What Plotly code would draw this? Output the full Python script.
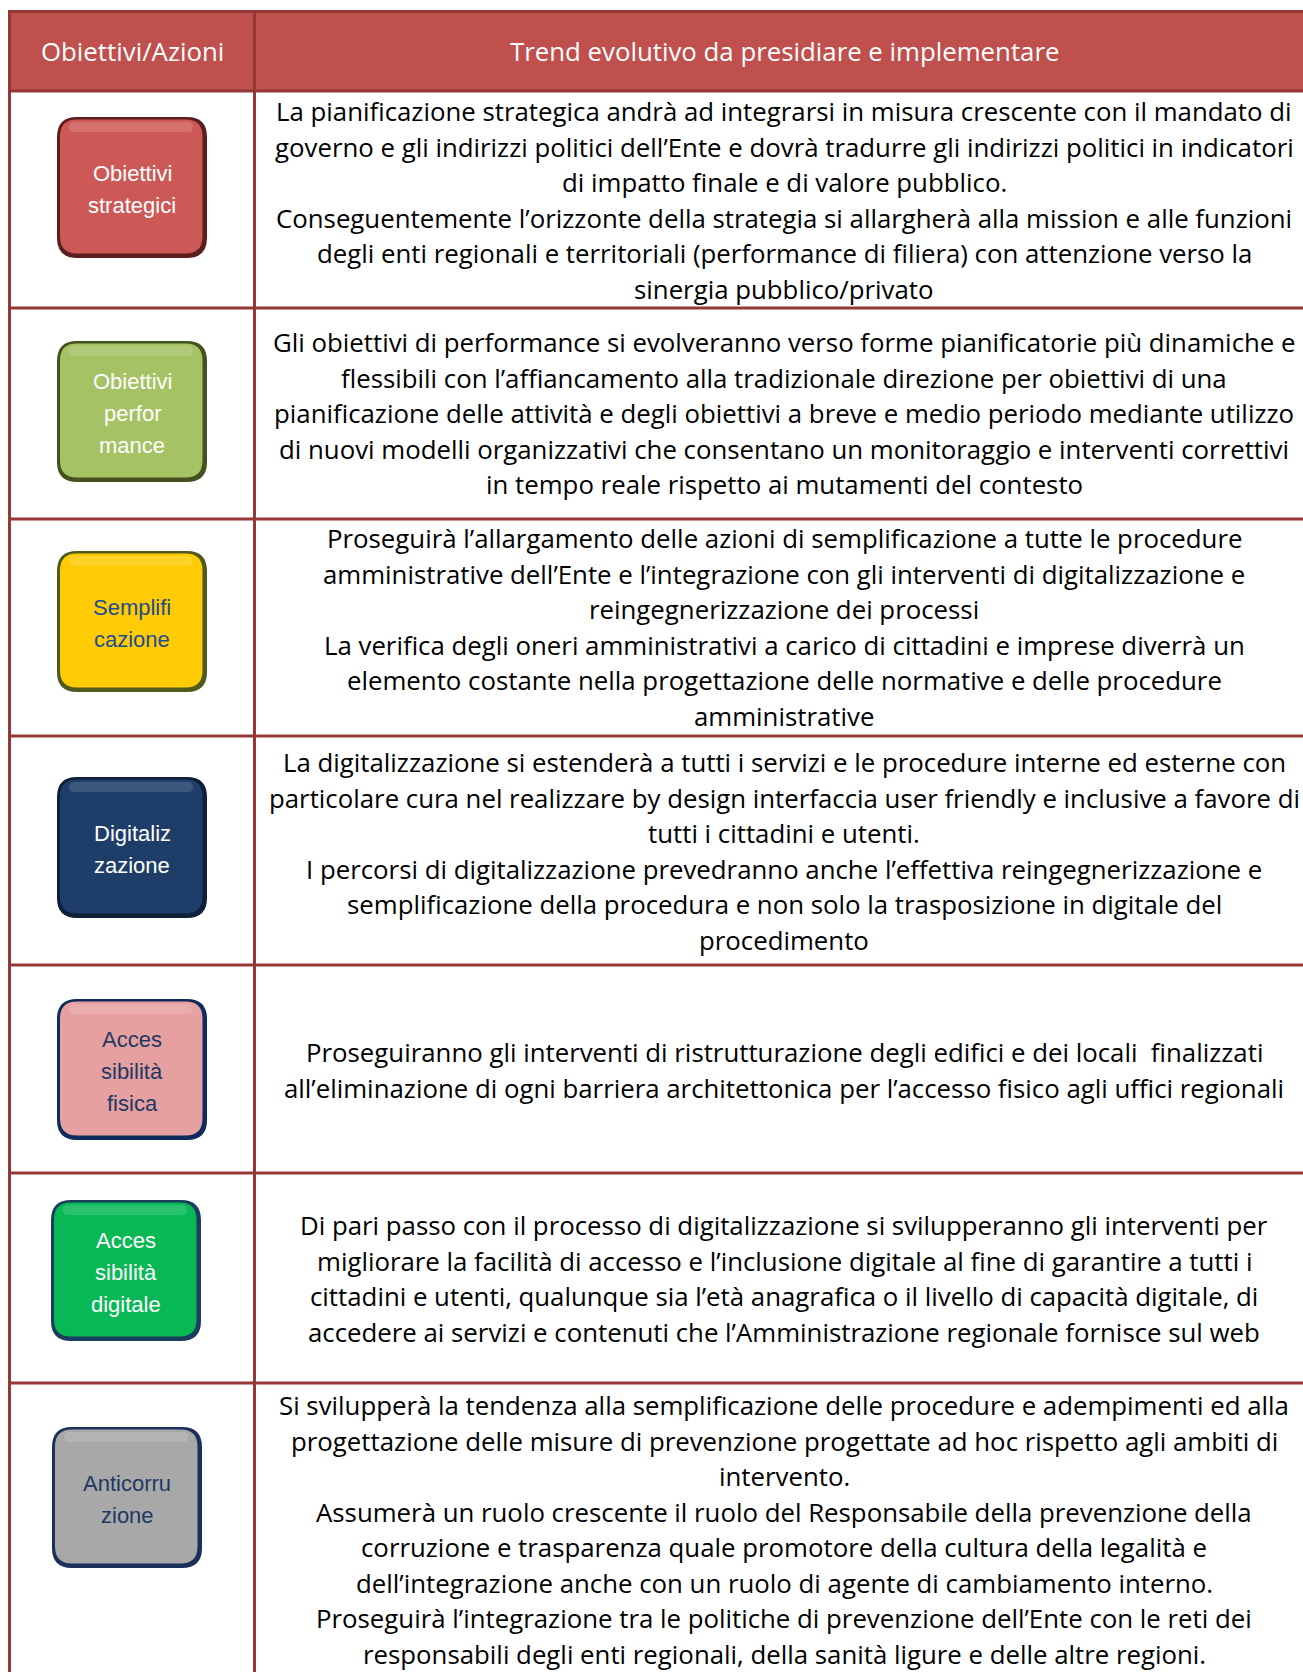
import plotly.graph_objects as go

W, H = 1303, 1672

# ---------------- data ----------------
header_labels = ["Obiettivi/Azioni", "Trend evolutivo da presidiare e implementare"]

button_labels = [
    ["Obiettivi", "strategici"],
    ["Obiettivi", "perfor", "mance"],
    ["Semplifi", "cazione"],
    ["Digitaliz", "zazione"],
    ["Acces", "sibilità", "fisica"],
    ["Acces", "sibilità", "digitale"],
    ["Anticorru", "zione"],
]

descriptions = [
    ["La pianificazione strategica andrà ad integrarsi in misura crescente con il mandato di",
     "governo e gli indirizzi politici dell’Ente e dovrà tradurre gli indirizzi politici in indicatori",
     "di impatto finale e di valore pubblico.",
     "Conseguentemente l’orizzonte della strategia si allargherà alla mission e alle funzioni",
     "degli enti regionali e territoriali (performance di filiera) con attenzione verso la",
     "sinergia pubblico/privato"],
    ["Gli obiettivi di performance si evolveranno verso forme pianificatorie più dinamiche e",
     "flessibili con l’affiancamento alla tradizionale direzione per obiettivi di una",
     "pianificazione delle attività e degli obiettivi a breve e medio periodo mediante utilizzo",
     "di nuovi modelli organizzativi che consentano un monitoraggio e interventi correttivi",
     "in tempo reale rispetto ai mutamenti del contesto"],
    ["Proseguirà l’allargamento delle azioni di semplificazione a tutte le procedure",
     "amministrative dell’Ente e l’integrazione con gli interventi di digitalizzazione e",
     "reingegnerizzazione dei processi",
     "La verifica degli oneri amministrativi a carico di cittadini e imprese diverrà un",
     "elemento costante nella progettazione delle normative e delle procedure",
     "amministrative"],
    ["La digitalizzazione si estenderà a tutti i servizi e le procedure interne ed esterne con",
     "particolare cura nel realizzare by design interfaccia user friendly e inclusive a favore di",
     "tutti i cittadini e utenti.",
     "I percorsi di digitalizzazione prevedranno anche l’effettiva reingegnerizzazione e",
     "semplificazione della procedura e non solo la trasposizione in digitale del",
     "procedimento"],
    ["Proseguiranno gli interventi di ristrutturazione degli edifici e dei locali  finalizzati",
     "all’eliminazione di ogni barriera architettonica per l’accesso fisico agli uffici regionali"],
    ["Di pari passo con il processo di digitalizzazione si svilupperanno gli interventi per",
     "migliorare la facilità di accesso e l’inclusione digitale al fine di garantire a tutti i",
     "cittadini e utenti, qualunque sia l’età anagrafica o il livello di capacità digitale, di",
     "accedere ai servizi e contenuti che l’Amministrazione regionale fornisce sul web"],
    ["Si svilupperà la tendenza alla semplificazione delle procedure e adempimenti ed alla",
     "progettazione delle misure di prevenzione progettate ad hoc rispetto agli ambiti di",
     "intervento.",
     "Assumerà un ruolo crescente il ruolo del Responsabile della prevenzione della",
     "corruzione e trasparenza quale promotore della cultura della legalità e",
     "dell’integrazione anche con un ruolo di agente di cambiamento interno.",
     "Proseguirà l’integrazione tra le politiche di prevenzione dell’Ente con le reti dei",
     "responsabili degli enti regionali, della sanità ligure e delle altre regioni."],
]

# ---------------- styles / layout ----------------
face_colors = ["#CD5957", "#A5C264", "#FFCB05", "#1E3D68", "#E6A0A0", "#08B855", "#A8A8A8"]
edge_colors = ["#5A1E1C", "#44521F", "#4E5A1E", "#0E1F38", "#0F2A5C", "#1A3F5E", "#1A2F5A"]
text_colors = ["#FFFFFF", "#FFFFFF", "#1F4E8C", "#FFFFFF", "#1F3864", "#FFFFFF", "#1F3864"]

BORDER = "#953735"
HEADER_FILL = "#C0504D"
row_lines = [91, 308, 519, 736, 965, 1173, 1383]
LEFT_X, DIV_X, RIGHT_X = 9.5, 254.5, 1312
button_x0 = [57, 57, 57, 57, 57, 51, 52]
button_y0 = [117, 341, 551, 777, 999, 1200, 1427]
BW, BH, RAD = 150, 141, 20
first_line_y = [111, 342, 538, 762, 1052, 1225, 1405]
LINE_H = 35.5
BODY_X = 784
BODY_FONT = "Open Sans"
BODY_SIZE = 25.8

fig = go.Figure()


def rrect(x0, y0, x1, y1, r):
    return (f"M {x0+r},{y0} L {x1-r},{y0} Q {x1},{y0} {x1},{y0+r} "
            f"L {x1},{y1-r} Q {x1},{y1} {x1-r},{y1} L {x0+r},{y1} "
            f"Q {x0},{y1} {x0},{y1-r} L {x0},{y0+r} Q {x0},{y0} {x0+r},{y0} Z")


shapes = []
shapes.append(dict(type="rect", x0=LEFT_X, x1=RIGHT_X, y0=11, y1=91,
                   fillcolor=HEADER_FILL, line_width=0, layer="below"))
shapes.append(dict(type="line", x0=LEFT_X - 1.5, x1=RIGHT_X, y0=11.5, y1=11.5,
                   line=dict(color=BORDER, width=3)))
for y in row_lines:
    shapes.append(dict(type="line", x0=LEFT_X - 1.5, x1=RIGHT_X, y0=y, y1=y,
                       line=dict(color=BORDER, width=3)))
for x in (LEFT_X, DIV_X):
    shapes.append(dict(type="line", x0=x, x1=x, y0=10, y1=H + 5,
                       line=dict(color=BORDER, width=3)))

annotations = []
annotations.append(dict(x=(LEFT_X + DIV_X) / 2, y=51, text=header_labels[0], showarrow=False,
                        xanchor="center", yanchor="middle",
                        font=dict(family=BODY_FONT, size=BODY_SIZE, color="white")))
annotations.append(dict(x=BODY_X, y=51, text=header_labels[1], showarrow=False,
                        xanchor="center", yanchor="middle",
                        font=dict(family=BODY_FONT, size=BODY_SIZE, color="white")))

for i, labels in enumerate(button_labels):
    x0, y0 = button_x0[i], button_y0[i]
    x1, y1 = x0 + BW, y0 + BH
    shapes.append(dict(type="path", path=rrect(x0, y0, x1, y1, RAD),
                       fillcolor=edge_colors[i], line_width=0))
    shapes.append(dict(type="path", path=rrect(x0 + 3, y0 + 2.5, x1 - 4.5, y1 - 4.5, RAD - 3),
                       fillcolor=face_colors[i], line_width=0))
    shapes.append(dict(type="path", path=rrect(x0 + 12, y0 + 5, x1 - 14, y0 + 15, 5),
                       fillcolor="rgba(255,255,255,0.14)", line_width=0))
    cy = y0 + BH / 2 + 2
    n = len(labels)
    for k, lab in enumerate(labels):
        annotations.append(dict(x=x0 + BW / 2, y=cy + (k - (n - 1) / 2) * 32, text=lab,
                                showarrow=False, xanchor="center", yanchor="middle",
                                font=dict(family="Liberation Sans", size=22,
                                          color=text_colors[i])))

for i, lines in enumerate(descriptions):
    for k, line in enumerate(lines):
        annotations.append(dict(x=BODY_X, y=first_line_y[i] + k * LINE_H, text=line,
                                showarrow=False, xanchor="center", yanchor="middle",
                                font=dict(family=BODY_FONT, size=BODY_SIZE, color="black")))

fig.update_layout(
    width=W, height=H,
    margin=dict(l=0, r=0, t=0, b=0),
    paper_bgcolor="white", plot_bgcolor="white",
    xaxis=dict(range=[0, W], visible=False, fixedrange=True),
    yaxis=dict(range=[H, 0], visible=False, fixedrange=True),
    shapes=shapes, annotations=annotations, showlegend=False,
)

fig.write_html("out.html", config={"displayModeBar": False},
               post_script="document.body.style.margin='0';document.body.style.padding='0';")
